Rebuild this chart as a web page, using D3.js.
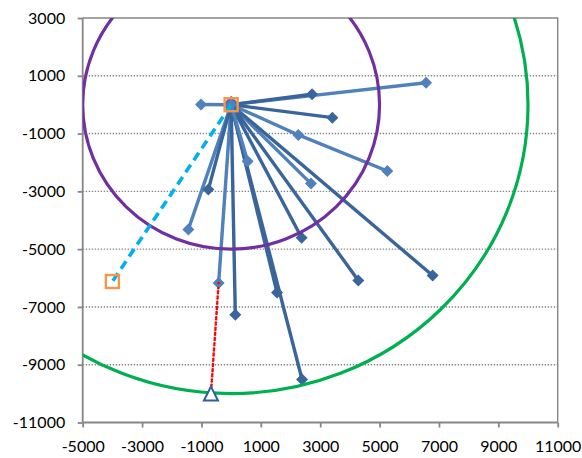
<!DOCTYPE html>
<html><head><meta charset="utf-8">
<script src="https://cdn.jsdelivr.net/npm/d3@7"></script>
<style>
html,body{margin:0;padding:0;background:#fff;}
svg{display:block;}
text{font-family:Lato,"Open Sans",sans-serif;font-size:16px;fill:#000;}
</style></head>
<body>
<svg id="chart" width="582" height="458"></svg>
<script>
// ---- data ----
const xTicks = [-5000, -3000, -1000, 1000, 3000, 5000, 7000, 9000, 11000];
const yTicks = [3000, 1000, -1000, -3000, -5000, -7000, -9000, -11000];
const origin = [0, 0];
const lightLines = [
  [[6565, 760]],
  [[2263, -1047], [5261, -2295]],
  [[2691, -2732]],
  [[-1441, -4317]],
  [[-421, -6170]],
  [[-1014, 5]]
];
const darkLines = [
  [[2725, 360]],
  [[3410, -450]],
  [[-768, -2940]],
  [[2375, -4605]],
  [[4284, -6085]],
  [[6787, -5912]],
  [[2390, -9510]],
  [[1546, -6500]],
  [[141, -7270]]
];
const lightLines2 = [
  [[556, -1959]]
];
const circleRadii = [5000, 10000];
const circleColors = ["#7030A0", "#00B050"];
const redPath = [[0, 0], [-421, -6170], [-680, -10000]];
const trianglePoint = [-680, -10000];
const cyanPath = [[0, 0], [-4000, -6120]];
const squarePoints = [[0, 0], [-4000, -6120]];

// ---- layout ----
const svg = d3.select("#chart");
const x = d3.scaleLinear().domain([-5000, 11000]).range([82.7, 557.7]);
const y = d3.scaleLinear().domain([-11000, 3000]).range([422.5, 18]);
const axisColor = "#868686";
const light = "#4F81BD", dark = "#3A659B";
const fmt = d => String(d);

svg.append("defs").append("clipPath").attr("id", "clip")
  .append("rect").attr("x", x(-5000)).attr("y", y(3000))
  .attr("width", x(11000) - x(-5000)).attr("height", y(-11000) - y(3000));

// gridlines
svg.append("g").selectAll("line").data(yTicks.filter(v => v !== 3000 && v !== -11000))
  .join("line")
  .attr("x1", x(-5000)).attr("x2", x(11000))
  .attr("y1", d => y(d)).attr("y2", d => y(d))
  .attr("stroke", axisColor).attr("stroke-width", 1.4)
  .attr("stroke-dasharray", "1.4,1.6");

// plot border top/right
svg.append("path")
  .attr("d", `M${x(-5000)},${y(3000)}H${x(11000)}V${y(-11000)}`)
  .attr("fill", "none").attr("stroke", axisColor).attr("stroke-width", 1.4);

// axes
const yAxis = svg.append("g").attr("transform", `translate(${x(-5000)},0)`)
  .call(d3.axisLeft(y).tickValues(yTicks).tickSize(5).tickPadding(12.5).tickFormat(fmt));
const xAxis = svg.append("g").attr("transform", `translate(0,${y(-11000)})`)
  .call(d3.axisBottom(x).tickValues(xTicks).tickSize(5).tickPadding(13.5).tickFormat(fmt));
[yAxis, xAxis].forEach(g => {
  g.select(".domain").attr("stroke", axisColor).attr("stroke-width", 1.8);
  g.selectAll(".tick line").attr("stroke", axisColor).attr("stroke-width", 1.8);
  g.selectAll("text").attr("font-family", "Lato, 'Open Sans', sans-serif").attr("font-size", 16).attr("fill", "#000");
});
xAxis.select(".domain").attr("d", `M${x(-5000)},0H${x(11000)}`);
yAxis.select(".domain").attr("d", `M0,${y(3000)}V${y(-11000)}`);

const plot = svg.append("g").attr("clip-path", "url(#clip)");
const line = d3.line().x(d => x(d[0])).y(d => y(d[1]));
const diamond = s => `M0,${-s}L${s},0L0,${s}L${-s},0Z`;

// red dotted series (under blue lines)
plot.append("path").attr("d", line(redPath))
  .attr("fill", "none").attr("stroke", "#FF0000").attr("stroke-width", 2.6)
  .attr("stroke-linecap", "round").attr("stroke-dasharray", "0,5.2");

// center purple marker
plot.append("path").attr("d", diamond(9)).attr("transform", `translate(${x(0)},${y(0)})`)
  .attr("fill", "#8064A2");

function drawSeries(lines, color) {
  lines.forEach(pts => {
    const all = [origin].concat(pts);
    plot.append("path").attr("d", line(all))
      .attr("fill", "none").attr("stroke", color).attr("stroke-width", 3.4)
      .attr("stroke-linejoin", "round");
    all.forEach(p => {
      plot.append("path").attr("d", diamond(6))
        .attr("transform", `translate(${x(p[0])},${y(p[1])})`)
        .attr("fill", color);
    });
  });
}
drawSeries(lightLines, light);
drawSeries(darkLines, dark);
drawSeries(lightLines2, light);

// circles
circleRadii.forEach((r, i) => {
  plot.append("ellipse")
    .attr("cx", x(0)).attr("cy", y(0))
    .attr("rx", x(r) - x(0)).attr("ry", y(0) - y(r))
    .attr("fill", "none").attr("stroke", circleColors[i]).attr("stroke-width", 3.2);
});

// red dotted lower part over circle
plot.append("path").attr("d", line(redPath.slice(1)))
  .attr("fill", "none").attr("stroke", "#FF0000").attr("stroke-width", 2.6)
  .attr("stroke-linecap", "round").attr("stroke-dasharray", "0,5.2");

// cyan dashed
plot.append("path").attr("d", line(cyanPath))
  .attr("fill", "none").attr("stroke", "#00B0F0").attr("stroke-width", 3.6)
  .attr("stroke-dasharray", "9,5.5");

// orange squares
plot.selectAll("rect.sq").data(squarePoints).join("rect")
  .attr("x", d => x(d[0]) - 6.5).attr("y", d => y(d[1]) - 6.5)
  .attr("width", 13).attr("height", 13)
  .attr("fill", "none").attr("stroke", "#F79646").attr("stroke-width", 2.4);

// triangle
const ts = 7;
plot.append("path")
  .attr("d", `M0,${-ts}L${ts},${ts}L${-ts},${ts}Z`)
  .attr("transform", `translate(${x(trianglePoint[0])},${y(trianglePoint[1])})`)
  .attr("fill", "#fff").attr("stroke", "#2F5F98").attr("stroke-width", 2);
</script>
</body></html>
